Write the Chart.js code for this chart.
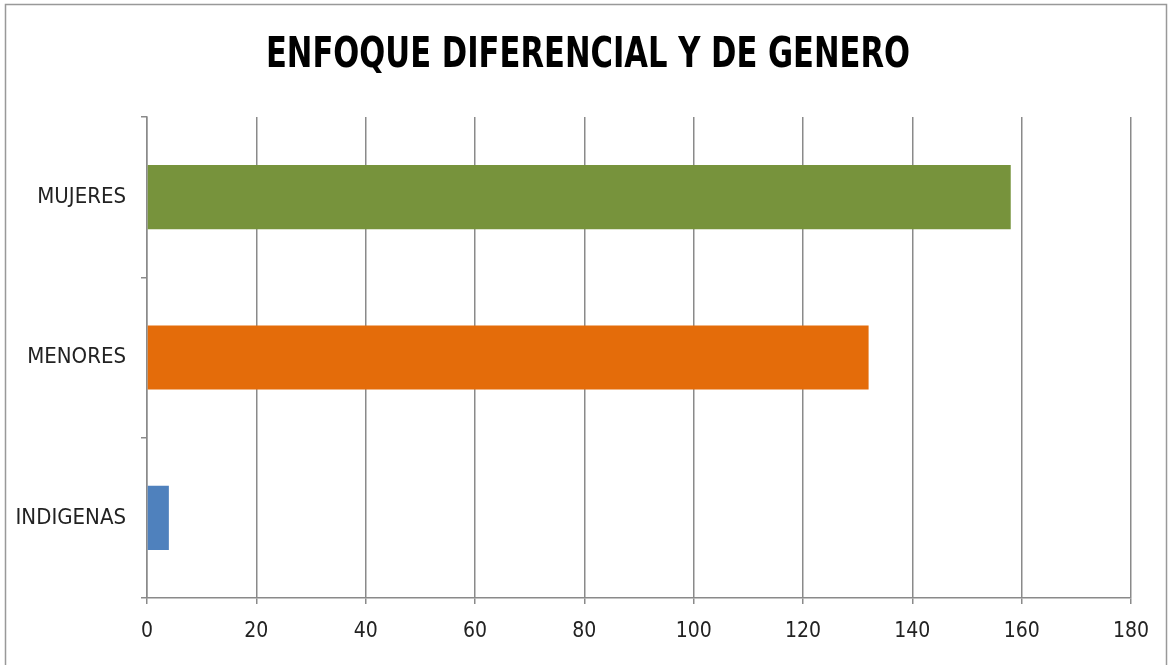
<!DOCTYPE html>
<html>
<head>
<meta charset="utf-8">
<script src="https://cdn.jsdelivr.net/npm/chart.js@4.4.1/dist/chart.umd.min.js"></script>
<style>
html,body{margin:0;padding:0;background:#fff;}
#wrap{width:1175px;height:665px;position:relative;}
</style>
</head>
<body>
<div id="wrap"><canvas id="c" width="1175" height="665"></canvas></div>
<script>
const categories = ['MUJERES', 'MENORES', 'INDIGENAS'];
const values = [158, 132, 4];
const barColors = ['#77933C', '#E46C0A', '#4F81BD'];
const xMin = 0, xMax = 180, xStep = 20;
const titleText = 'ENFOQUE DIFERENCIAL Y DE GENERO';

const GRID = '#8a8a8a';
const FONT = "'Liberation Sans Narrow', 'DejaVu Sans Condensed', sans-serif";

const framePlugin = {
  id: 'frame',
  beforeDraw(chart) {
    const ctx = chart.ctx;
    ctx.save();
    ctx.fillStyle = '#fff';
    ctx.fillRect(0, 0, chart.width, chart.height);
    ctx.strokeStyle = '#999';
    ctx.lineWidth = 1.5;
    ctx.strokeRect(5.5, 4.5, 1161, 700);
    ctx.restore();
  },
  afterDraw(chart) {
    const ctx = chart.ctx;
    ctx.save();
    ctx.font = "bold 42px " + FONT;
    ctx.fillStyle = '#000';
    ctx.textAlign = 'center';
    ctx.textBaseline = 'middle';
    ctx.translate(588, 56);
    ctx.scale(0.81, 1);
    ctx.fillText(titleText, 0, 0);
    ctx.restore();
  }
};

new Chart(document.getElementById('c'), {
  type: 'bar',
  data: {
    labels: categories,
    datasets: [{
      data: values,
      backgroundColor: barColors,
      borderWidth: 0,
      barPercentage: 0.4,
      categoryPercentage: 1.0
    }]
  },
  options: {
    indexAxis: 'y',
    responsive: false,
    animation: false,
    layout: { padding: { left: 0, right: 44, top: 117, bottom: 0 } },
    plugins: {
      legend: { display: false },
      tooltip: { enabled: false },
      title: { display: false }
    },
    scales: {
      x: {
        min: xMin, max: xMax,
        ticks: { stepSize: xStep, color: '#222', font: { family: FONT, size: 21 }, padding: 15, maxRotation: 0 },
        grid: { color: GRID, lineWidth: 1.5, drawTicks: true, tickLength: 6, tickColor: GRID },
        border: { display: true, color: GRID, width: 1.5 },
        afterFit(scale) { scale.height = 67; }
      },
      y: {
        ticks: { color: '#222', font: { family: FONT, size: 22 }, padding: 15 },
        grid: { drawOnChartArea: false, drawTicks: true, tickLength: 6, color: GRID, tickColor: GRID, lineWidth: 1.5, offset: true },
        border: { display: true, color: GRID, width: 1.5 },
        afterFit(scale) { scale.width = 147; }
      }
    }
  },
  plugins: [framePlugin]
});
</script>
</body>
</html>
